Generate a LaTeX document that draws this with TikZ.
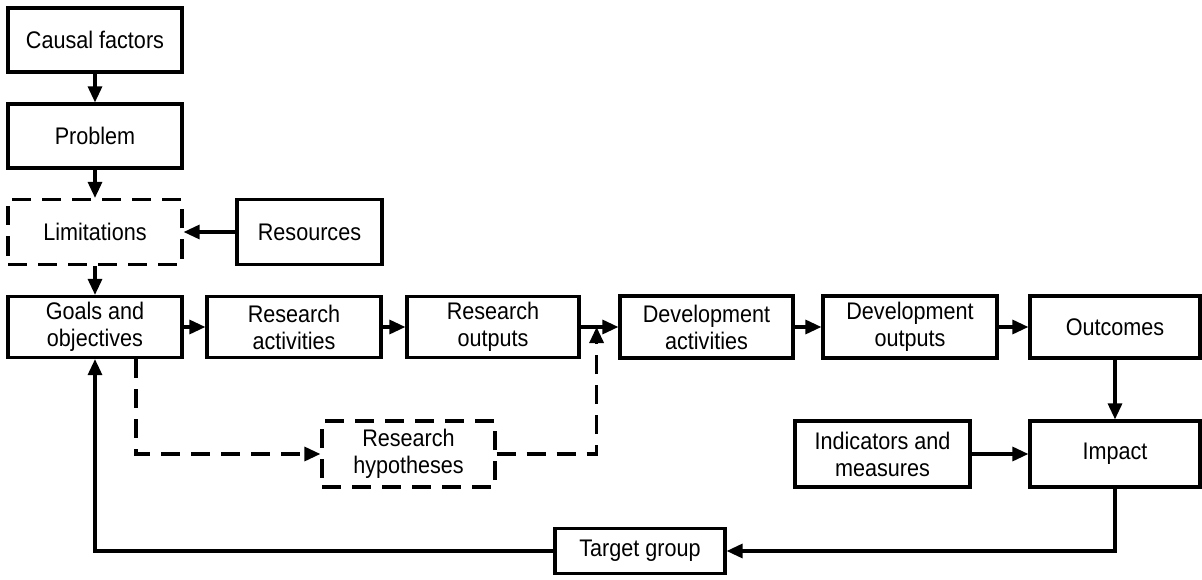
\documentclass[tikz,border=0pt]{standalone}
\usepackage{fontspec}
\setmainfont{Liberation Sans}[FakeStretch=0.9]
\usetikzlibrary{arrows.meta,calc}
\begin{document}
\begin{tikzpicture}[x=1pt,y=-1pt,
  line width=3.2pt,
  box/.style={draw,rectangle,inner sep=0pt,align=center,
    font=\fontsize{24}{27}\selectfont},
  dbox/.style={box,dash pattern=on 19pt off 11pt},
  flow/.style={-{Triangle[length=16pt,width=14pt]}},
  dflow/.style={flow,dash pattern=on 19pt off 11pt}]
\useasboundingbox (0,0) rectangle (1202,580);

% left column
\node[box,minimum width=174pt,minimum height=64pt] (cf) at (95,40) {Causal factors};
\node[box,minimum width=174pt,minimum height=64pt] (prob) at (95,136) {Problem};
\node[dbox,minimum width=174pt,minimum height=65pt] (lim) at (95,232) {Limitations};
\node[box,minimum width=145pt,minimum height=65pt] (res) at (309.5,232) {Resources};

% main chain
\node[box,minimum width=174pt,minimum height=61pt] (goals) at (95,327) {Goals and\\objectives};
\node[box,minimum width=174pt,minimum height=61pt] (ract) at (294,327) {Research\\activities};
\node[box,minimum width=172pt,minimum height=61pt] (rout) at (493,327) {Research\\outputs};
\node[box,minimum width=173pt,minimum height=62pt] (dact) at (706.5,327) {Development\\activities};
\node[box,minimum width=174pt,minimum height=62pt] (dout) at (910,327) {Development\\outputs};
\node[box,minimum width=170pt,minimum height=62pt] (outc) at (1115,327) {Outcomes};

% lower row
\node[dbox,minimum width=173pt,minimum height=66pt] (hyp) at (408.5,454) {Research\\hypotheses};
\node[box,minimum width=175pt,minimum height=66pt] (ind) at (882.5,454) {Indicators and\\measures};
\node[box,minimum width=170pt,minimum height=66pt] (imp) at (1115,454) {Impact};
\node[box,minimum width=170pt,minimum height=45pt] (tg) at (640,551) {Target group};

% connectors
\draw[flow] (cf) -- (prob);
\draw[flow] (prob) -- (lim);
\draw[flow] (res) -- (lim);
\draw[flow] (lim) -- (goals);
\draw[flow] (goals) -- (ract);
\draw[flow] (ract) -- (rout);
\draw[flow] (rout) -- (dact);
\draw[flow] (dact) -- (dout);
\draw[flow] (dout) -- (outc);
\draw[flow] (outc) -- (imp);
\draw[flow] (ind) -- (imp);
\draw[flow] (imp.south) |- (tg.east);
\draw[flow] (tg.west) -| (goals.south);

% hypotheses loop
\coordinate (gx) at ($(goals.south)+(41,0)$);
\coordinate (jn) at ($(rout.east)+(16,0)$);
\draw[dflow] (gx) |- (hyp.west);
\draw[dflow] (hyp.east) -| (jn);
\end{tikzpicture}
\end{document}
